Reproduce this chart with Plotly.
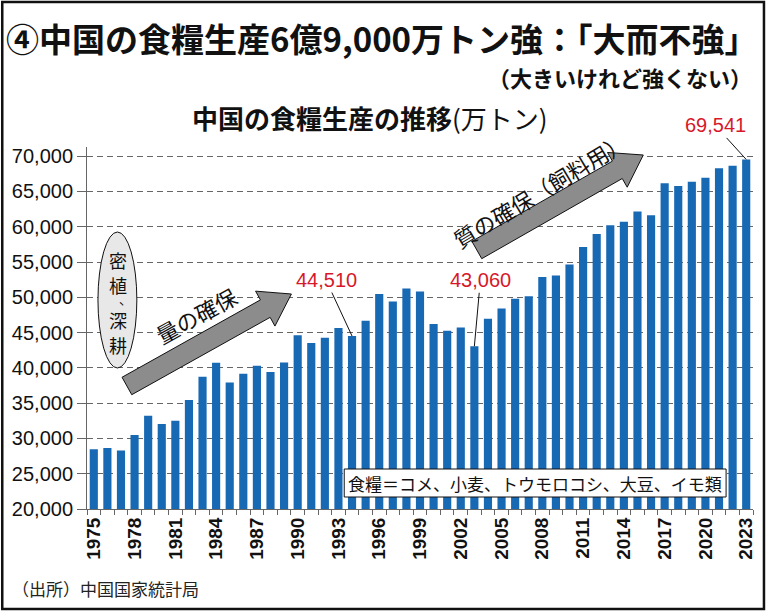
import math
import plotly.graph_objects as go

# 中国の食糧生産（万トン）
years = list(range(1975, 2024))
production = [
    28452, 28631, 28273, 30477, 33212, 32056, 32502, 35450, 38728, 40731,
    37911, 39151, 40298, 39408, 40755, 44624, 43529, 44266, 45649, 44510,
    46662, 50454, 49417, 51230, 50839, 46218, 45264, 45706, 43060, 46947,
    48402, 49804, 50160, 52871, 53082, 54648, 57121, 58958, 60194, 60703,
    62144, 61625, 66161, 65789, 66384, 66949, 68285, 68653, 69541,
]
callouts = [(1994, 44510, "44,510"), (2003, 43060, "43,060"), (2023, 69541, "69,541")]
callout_offsets = [(-26, -56), (6, -66), (-31, -34)]
ellipse_chars = ["密", "植", "、", "深", "耕"]
ellipse_char_x = [118, 118, 126, 118, 118]
ellipse_char_y = [260, 285, 298, 320, 345]
ellipse_char_size = [18, 18, 13, 18, 18]

# plot area in pixels
L, R, T, B = 87, 755, 147, 509


def px(x):
    return (x - L) / (R - L)


def py(y):
    return (B - y) / (B - T)


def arrow_path(x0, y0, x1, y1, w=10, hw=20, hl=30):
    """Block arrow polygon (pixel coords in, paper coords out)."""
    dx, dy = x1 - x0, y1 - y0
    n = math.hypot(dx, dy)
    ux, uy = dx / n, dy / n
    nx, ny = -uy, ux
    bx, by = x1 - ux * hl, y1 - uy * hl
    pts = [
        (x0 + nx * w, y0 + ny * w),
        (bx + nx * w, by + ny * w),
        (bx + nx * hw, by + ny * hw),
        (x1, y1),
        (bx - nx * hw, by - ny * hw),
        (bx - nx * w, by - ny * w),
        (x0 - nx * w, y0 - ny * w),
    ]
    return "M " + " L ".join(f"{px(a):.4f},{py(b):.4f}" for a, b in pts) + " Z"


fig = go.Figure()
fig.add_trace(go.Bar(
    x=years, y=production, width=0.6,
    marker=dict(color="#1869b4", line=dict(width=0)),
    hoverinfo="x+y",
))

jp = "Noto Sans CJK JP"
annotations = [
    dict(text="<b>④中国の食糧生産6億9,000万トン強：「大而不強」</b>",
         x=px(383), y=py(38), font=dict(size=33, family=jp, color="#111")),
    dict(text="<b>（大きいけれど強くない）</b>", x=px(756), y=py(77), xanchor="right",
         font=dict(size=22, family=jp, color="#111")),
    dict(text="<b>中国の食糧生産の推移</b>(万トン)", x=px(371), y=py(117),
         font=dict(size=26, family=jp, color="#111")),
    dict(text="量の確保", x=px(196), y=py(315), textangle=-29,
         font=dict(size=22, family=jp, color="#111")),
    dict(text="質の確保（飼料用）", x=px(541), y=py(190), textangle=-31,
         font=dict(size=22, family=jp, color="#111")),
    dict(text="食糧＝コメ、小麦、トウモロコシ、大豆、イモ類", x=px(536), y=py(483),
         font=dict(size=17, family=jp, color="#111")),
    dict(text="（出所）中国国家統計局", x=px(10), y=py(588), xanchor="left",
         font=dict(size=17, family=jp, color="#222")),
]
for ch, cx, cy, cs in zip(ellipse_chars, ellipse_char_x, ellipse_char_y, ellipse_char_size):
    annotations.append(dict(text=ch, x=px(cx), y=py(cy),
                            font=dict(size=cs, family=jp, color="#111")))
for a in annotations:
    a.update(xref="paper", yref="paper", showarrow=False)
    a.setdefault("xanchor", "center")
    a["yanchor"] = "middle"

for (yr, val, label), (ax, ay) in zip(callouts, callout_offsets):
    annotations.append(dict(
        x=yr, y=val, xref="x", yref="y", text=label, showarrow=True,
        arrowhead=0, arrowwidth=1, arrowcolor="#111", ax=ax, ay=ay,
        standoff=0, bgcolor="white",
        font=dict(size=20, family="Liberation Sans", color="#d7182a"),
    ))

shapes = [
    dict(type="rect", xref="paper", yref="paper",
         x0=px(2), x1=px(766), y0=py(609), y1=py(2),
         line=dict(color="#111", width=2.5)),
    dict(type="path", xref="paper", yref="paper",
         path=arrow_path(127, 386, 292, 294),
         fillcolor="#8c8c8c", line=dict(color="#111", width=1)),
    dict(type="path", xref="paper", yref="paper",
         path=arrow_path(478, 250, 645, 155),
         fillcolor="#8c8c8c", line=dict(color="#111", width=1)),
    dict(type="circle", xref="paper", yref="paper",
         x0=px(98), x1=px(137), y0=py(368), y1=py(232),
         fillcolor="#e8e8e8", line=dict(color="#111", width=1)),
    dict(type="rect", xref="paper", yref="paper",
         x0=px(345), x1=px(728), y0=py(497), y1=py(469),
         fillcolor="white", line=dict(color="#111", width=1)),
]

fig.update_layout(
    width=768, height=611,
    margin=dict(l=L, r=768 - R, t=T, b=611 - B),
    paper_bgcolor="white", plot_bgcolor="white",
    showlegend=False, bargap=0.4,
    annotations=annotations, shapes=shapes,
)
fig.update_xaxes(
    range=[1974.5, 2023.5], tickmode="linear", tick0=1975, dtick=3,
    tickangle=-90, ticks="", showgrid=False,
    showline=True, linecolor="#666", linewidth=1,
    tickfont=dict(size=19, family="Liberation Sans", color="#111", weight="bold"),
    minor=dict(ticks="outside", tick0=1974.5, dtick=1, ticklen=5,
               tickcolor="#666", showgrid=False),
)
fig.update_yaxes(
    range=[20000, 71300], tickmode="linear", tick0=20000, dtick=5000,
    tickformat=",d", ticks="outside", ticklen=9, tickcolor="#666",
    showline=True, linecolor="#666", linewidth=1,
    showgrid=True, gridcolor="#666", griddash="6px,4px", gridwidth=1,
    zeroline=False,
    tickfont=dict(size=20, family="Liberation Sans", color="#111"),
)

fig.write_html("out.html", config={"displayModeBar": False},
               post_script="document.body.style.margin='0px';")
